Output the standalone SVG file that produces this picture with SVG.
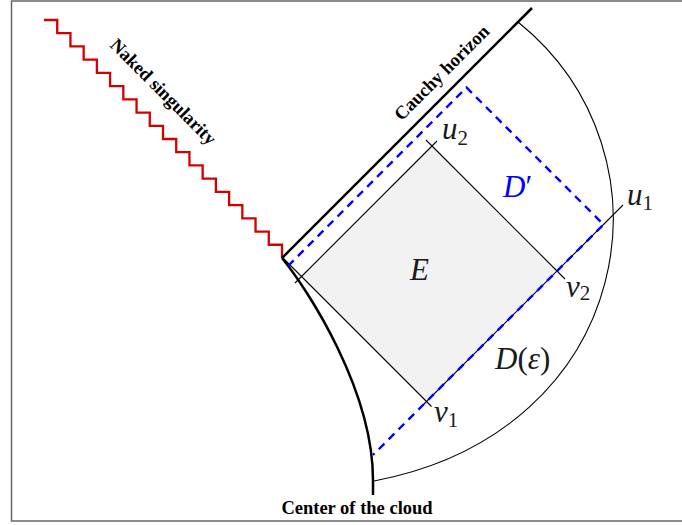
<svg xmlns="http://www.w3.org/2000/svg" width="682" height="525" viewBox="0 0 682 525">
<style>
.thin{fill:none;stroke:#000;stroke-width:1.1}
.thick{fill:none;stroke:#000;stroke-width:2.5}
.dash{fill:none;stroke:#0000ff;stroke-width:2.4;stroke-dasharray:8 6}
.lbl{font-family:"Liberation Serif","Times New Roman",serif;font-weight:bold;font-size:18.5px;fill:#000}
.m{font-family:"Liberation Serif","Times New Roman",serif;font-style:italic;font-size:31px;fill:#1a1a1a}
.blue{fill:#0000ff}
.sub{font-family:"Liberation Serif","Times New Roman",serif;font-style:normal;font-size:21px}
.up{font-style:normal}
</style>
<rect x="11.5" y="1" width="680" height="520" fill="#fff" stroke="#666" stroke-width="1.5"/>
<g id="region-E">
<polygon points="301.5,276.5 432,146 557,271 426.5,401.5" fill="#f2f2f2"/>
</g>
<g id="connectors">
<path id="singularity" d="M44 20 h13.222 v13.222 h13.222 v13.222 h13.222 v13.222 h13.222 v13.222 h13.222 v13.222 h13.222 v13.222 h13.222 v13.222 h13.222 v13.222 h13.222 v13.222 h13.222 v13.222 h13.222 v13.222 h13.222 v13.222 h13.222 v13.222 h13.222 v13.222 h13.222 v13.222 h13.222 v13.222 h13.222 v13.222 h13.222 v13.222" fill="none" stroke="#d40000" stroke-width="2.3"/>
<line id="cauchy" class="thick" x1="282" y1="258" x2="532" y2="8"/>
<path id="center" class="thick" d="M282 258 C308 290 373 390 373 480 L373 495"/>
<path id="outer" class="thin" d="M374 481 C634 432 682 154 518 22"/>
<line class="thin" x1="282" y1="257" x2="431.5" y2="406.5"/>
<line class="thin" x1="295" y1="283" x2="437" y2="141"/>
<line class="thin" x1="426" y1="140" x2="565" y2="279"/>
<line class="thin" x1="424" y1="404" x2="623" y2="205"/>
<path id="Dprime" class="dash" d="M288 266 L466.5 87.5 L603.5 224.5 L373 455"/>
</g>
<g id="labels">
<text class="lbl" transform="translate(159,96) rotate(45)" text-anchor="middle">Naked singularity</text>
<text class="lbl" transform="translate(446,77) rotate(-45)" text-anchor="middle">Cauchy horizon</text>
<text class="lbl" x="357" y="514" text-anchor="middle">Center of the cloud</text>
<text class="m" x="442" y="139">u<tspan class="sub" dy="6">2</tspan></text>
<text class="m blue" x="503" y="197">D<tspan class="up">′</tspan></text>
<text class="m" x="410" y="280">E</text>
<text class="m" x="566" y="297">v<tspan class="sub" dy="3">2</tspan></text>
<text class="m" x="627" y="205">u<tspan class="sub" dy="5">1</tspan></text>
<text class="m" x="495" y="369">D<tspan class="up">(</tspan>ε<tspan class="up">)</tspan></text>
<text class="m" x="434" y="422">v<tspan class="sub" dy="5">1</tspan></text>
</g>
</svg>
